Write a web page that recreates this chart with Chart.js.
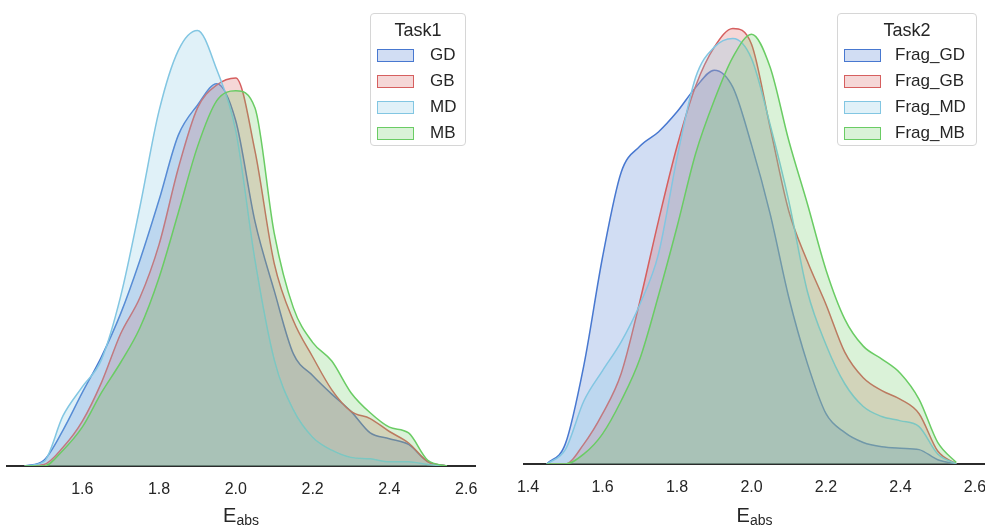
<!DOCTYPE html>
<html>
<head>
<meta charset="utf-8">
<script src="https://cdn.jsdelivr.net/npm/chart.js@4.4.1/dist/chart.umd.min.js"></script>
<style>
  html, body { margin: 0; padding: 0; background: #fff; }
  body { width: 985px; height: 525px; position: relative; overflow: hidden;
         font-family: "Liberation Sans", Arial, sans-serif; color: #262626; }
  canvas { position: absolute; top: 0; }
  .xlabel { position: absolute; top: 505px; font-size: 20px; line-height: 20px;
            text-align: center; color: #262626; }
  .xlabel sub { font-size: 14px; vertical-align: -3px; line-height: 0; }
  .legend { position: absolute; top: 13px; height: 133px; box-sizing: border-box;
            border: 1px solid #d6d6d6; border-radius: 4px; background: rgba(255,255,255,0.8); }
  .legend .title { position: absolute; left: 0; right: 0; top: 6px; text-align: center;
                   font-size: 18px; line-height: 20px; }
  .legend .item { position: absolute; height: 20px; font-size: 17px; line-height: 20px; }
  .legend .patch { position: absolute; left: 6px; width: 37px; height: 13px; box-sizing: border-box; }
  .legend .text { position: absolute; white-space: nowrap; }
</style>
</head>
<body>
<canvas id="task1" width="490" height="525" style="left:0"></canvas>
<canvas id="task2" width="490" height="525" style="left:495px"></canvas>
<div class="xlabel" style="left:7px;width:468px">E<sub>abs</sub></div>
<div class="xlabel" style="left:524px;width:461px">E<sub>abs</sub></div>
<div id="legend1" class="legend" style="left:370px;width:96px"></div>
<div id="legend2" class="legend" style="left:837px;width:140px"></div>

<script>
// Evaluation grid for the density curves (E_abs)
const xGrid = [1.45, 1.50, 1.55, 1.60, 1.65, 1.70, 1.75, 1.80, 1.85, 1.90, 1.95, 2.00,
               2.05, 2.10, 2.15, 2.20, 2.25, 2.30, 2.35, 2.40, 2.45, 2.50, 2.55];

// Task1 densities
const task1GD = [0.00, 0.04, 0.25, 0.51, 0.76, 1.06, 1.43, 1.85, 2.30, 2.51, 2.66, 2.40,
                 1.70, 1.22, 0.78, 0.63, 0.50, 0.38, 0.23, 0.19, 0.15, 0.03, 0.00];
const task1GB = [0.00, 0.01, 0.13, 0.31, 0.58, 0.92, 1.17, 1.54, 2.07, 2.49, 2.65, 2.70,
                 2.19, 1.41, 1.01, 0.76, 0.53, 0.38, 0.33, 0.24, 0.16, 0.03, 0.00];
const task1MD = [0.00, 0.03, 0.35, 0.55, 0.74, 1.18, 1.80, 2.47, 2.89, 3.03, 2.76, 2.33,
                 1.43, 0.74, 0.39, 0.20, 0.11, 0.06, 0.05, 0.03, 0.03, 0.01, 0.00];
const task1MB = [0.00, 0.00, 0.11, 0.27, 0.51, 0.72, 0.96, 1.31, 1.76, 2.22, 2.54, 2.61,
                 2.49, 1.62, 1.10, 0.86, 0.73, 0.51, 0.37, 0.27, 0.23, 0.04, 0.00];

// Task2 densities
const task2GD = [0.00, 0.14, 0.69, 1.44, 2.03, 2.21, 2.31, 2.45, 2.62, 2.74, 2.62, 2.22,
                 1.74, 1.16, 0.70, 0.35, 0.22, 0.15, 0.12, 0.11, 0.10, 0.03, 0.00];
const task2GB = [0.00, 0.00, 0.14, 0.35, 0.63, 1.13, 1.69, 2.21, 2.63, 2.90, 3.03, 2.92,
                 2.34, 1.76, 1.41, 1.11, 0.78, 0.60, 0.51, 0.45, 0.35, 0.09, 0.00];
const task2MD = [0.00, 0.10, 0.44, 0.65, 0.85, 1.11, 1.46, 2.13, 2.69, 2.90, 2.96, 2.82,
                 2.36, 1.83, 1.20, 0.83, 0.56, 0.40, 0.33, 0.30, 0.26, 0.07, 0.00];
const task2MB = [0.00, 0.00, 0.07, 0.21, 0.44, 0.73, 1.17, 1.65, 2.16, 2.53, 2.83, 2.99,
                 2.76, 2.25, 1.81, 1.35, 1.01, 0.82, 0.73, 0.63, 0.45, 0.15, 0.01];

const task1Names = ['GD', 'GB', 'MD', 'MB'];
const task2Names = ['Frag_GD', 'Frag_GB', 'Frag_MD', 'Frag_MB'];

const task1Ticks = [1.6, 1.8, 2.0, 2.2, 2.4, 2.6];
const task2Ticks = [1.4, 1.6, 1.8, 2.0, 2.2, 2.4, 2.6];

const palette = ['#4878d0', '#d65f5f', '#82c6e2', '#6acc64'];

function rgba(hex, a) {
  const n = parseInt(hex.slice(1), 16);
  return `rgba(${(n >> 16) & 255},${(n >> 8) & 255},${n & 255},${a})`;
}

function buildDatasets(names, series) {
  return names.map((name, i) => ({
    label: name,
    data: xGrid.map((x, k) => ({ x: x, y: series[i][k] })),
    borderColor: palette[i],
    backgroundColor: rgba(palette[i], 0.25),
    borderWidth: 1.5,
    fill: 'origin',
    pointRadius: 0,
    cubicInterpolationMode: 'monotone',
    order: names.length - i   // later hues are painted over earlier ones
  }));
}

function makeChart(id, names, series, ticks, xMin, xMax, pad, axisHeight) {
  return new Chart(document.getElementById(id), {
    type: 'line',
    data: { datasets: buildDatasets(names, series) },
    options: {
      responsive: false,
      animation: false,
      events: [],
      layout: { padding: pad },
      plugins: { legend: { display: false }, tooltip: { enabled: false } },
      scales: {
        x: {
          type: 'linear',
          min: xMin,
          max: xMax,
          grid: { display: false, drawTicks: false },
          border: { display: true, color: '#2b2b2b', width: 2 },
          ticks: {
            padding: 14,
            color: '#262626',
            font: { family: '"Liberation Sans", Arial, sans-serif', size: 16 },
            autoSkip: false,
            maxRotation: 0,
            callback: (v) => Number(v).toFixed(1)
          },
          afterBuildTicks: (scale) => { scale.ticks = ticks.map(v => ({ value: v })); },
          afterFit: (scale) => {
            scale.height = axisHeight;
            scale.paddingLeft = 0;
            scale.paddingRight = 0;
          }
        },
        y: { display: false, min: 0, max: 3.2 }
      }
    }
  });
}

makeChart('task1', task1Names, [task1GD, task1GB, task1MD, task1MB],
          task1Ticks, 1.404, 2.623, { top: 6, left: 7, right: 15, bottom: 0 }, 59);
makeChart('task2', task2Names, [task2GD, task2GB, task2MD, task2MB],
          task2Ticks, 1.389, 2.627, { top: 4, left: 29, right: 0, bottom: 0 }, 61);

function buildLegend(id, title, names, textLeft) {
  const box = document.getElementById(id);
  const t = document.createElement('div');
  t.className = 'title';
  t.textContent = title;
  box.appendChild(t);
  names.forEach((name, i) => {
    const cy = 41 + i * 26;
    const patch = document.createElement('div');
    patch.className = 'patch';
    patch.style.top = (cy - 6.5) + 'px';
    patch.style.border = '1.5px solid ' + palette[i];
    patch.style.background = rgba(palette[i], 0.25);
    box.appendChild(patch);
    const label = document.createElement('div');
    label.className = 'item text';
    label.style.left = textLeft + 'px';
    label.style.top = (cy - 10) + 'px';
    label.textContent = name;
    box.appendChild(label);
  });
}

buildLegend('legend1', 'Task1', task1Names, 59);
buildLegend('legend2', 'Task2', task2Names, 57);
</script>
</body>
</html>
